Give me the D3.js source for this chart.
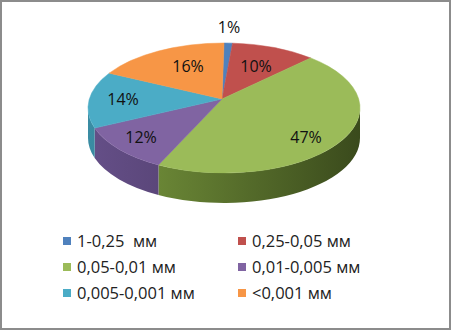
<!DOCTYPE html>
<html>
<head>
<meta charset="utf-8">
<script src="https://cdn.jsdelivr.net/npm/d3@7"></script>
<style>
  html,body{margin:0;padding:0;background:#fff;}
  svg{display:block;}
  text{font-family:"Open Sans",sans-serif;}
</style>
</head>
<body>
<div id="chart"></div>
<script>
/* ── data ─────────────────────────────────────────── */
const categories = ['1-0,25  мм','0,25-0,05 мм','0,05-0,01 мм','0,01-0,005 мм','0,005-0,001 мм','<0,001 мм'];
const values     = [1, 10, 47, 12, 14, 16];
const labels     = ['1%','10%','47%','12%','14%','16%'];
const colors     = ['#4F81BD','#C0504D','#9BBB59','#8064A2','#4BACC6','#F79646'];
const sideLight  = ['#3f6a9c','#9c3c3a','#7a9a3e','#654f88','#3a8ca3','#d07a35'];
const sideDark   = ['#28456a','#652423','#3a4a1c','#3d2e52','#205566','#7f4a1e'];

const W = 451, H = 330;
const cx = 224, cy = 108, rx = 136, ry = 65, depth = 30;
const vx = 222, vy = 99;   // apparent apex (perspective)

const svg = d3.select('#chart').append('svg')
  .attr('width', W).attr('height', H);

svg.append('rect')
  .attr('x',1).attr('y',1).attr('width',W-2).attr('height',H-2)
  .attr('fill','#fff').attr('stroke','#8c8c8c').attr('stroke-width',2);

const defs = svg.append('defs');
colors.forEach((c,i)=>{
  const g = defs.append('linearGradient').attr('id','side'+i)
    .attr('gradientUnits','userSpaceOnUse')
    .attr('x1',cx-rx).attr('x2',cx+rx).attr('y1',0).attr('y2',0);
  g.append('stop').attr('offset','0%').attr('stop-color',sideLight[i]);
  g.append('stop').attr('offset','100%').attr('stop-color',sideDark[i]);
});

const pie = d3.pie().sort(null).value(d=>d);
const arcs = pie(values);

const pt = (a, dy=0) => [cx + rx*Math.sin(a), cy - ry*Math.cos(a) + dy];

/* ── sides (only the front half, angles PI/2..3PI/2) ── */
const sideG = svg.append('g');
arcs.forEach((d,i)=>{
  const a0 = Math.max(d.startAngle, Math.PI/2);
  const a1 = Math.min(d.endAngle, 3*Math.PI/2);
  if (a1 <= a0) return;
  const p0 = pt(a0), p1 = pt(a1), q1 = pt(a1, depth), q0 = pt(a0, depth);
  sideG.append('path')
    .attr('d', `M${p0}A${rx},${ry} 0 0 1 ${p1}L${q1}A${rx},${ry} 0 0 0 ${q0}Z`)
    .attr('fill', `url(#side${i})`);
});

/* ── top face ─────────────────────────────────────── */
const topG = svg.append('g');
arcs.forEach((d,i)=>{
  const p0 = pt(d.startAngle), p1 = pt(d.endAngle);
  const large = (d.endAngle - d.startAngle) > Math.PI ? 1 : 0;
  topG.append('path')
    .attr('d', `M${vx},${vy}L${p0}A${rx},${ry} 0 ${large} 1 ${p1}Z`)
    .attr('fill', colors[i])
    .attr('stroke', colors[i]).attr('stroke-width', 0.5);
});

/* ── percent labels ───────────────────────────────── */
const labelPos = [[229,33],[256,72],[306,143],[141,143],[123,105],[188,72]];
svg.append('g').selectAll('text')
  .data(labels).enter().append('text')
  .attr('x',(d,i)=>labelPos[i][0])
  .attr('y',(d,i)=>labelPos[i][1])
  .attr('text-anchor','middle')
  .attr('font-size',16)
  .attr('fill','#111')
  .text(d=>d);

/* ── legend ───────────────────────────────────────── */
const legX = [63, 238], legY = [241, 267, 293];
const leg = svg.append('g').selectAll('g')
  .data(categories).enter().append('g')
  .attr('transform',(d,i)=>`translate(${legX[i%2]},${legY[Math.floor(i/2)]})`);
leg.append('rect')
  .attr('x',0).attr('y',-4).attr('width',8).attr('height',8)
  .attr('fill',(d,i)=>colors[i]);
leg.append('text')
  .attr('x',14).attr('y',5.5)
  .attr('font-size',16.5)
  .attr('fill','#222')
  .style('white-space','pre')
  .text(d=>d);
</script>
</body>
</html>
